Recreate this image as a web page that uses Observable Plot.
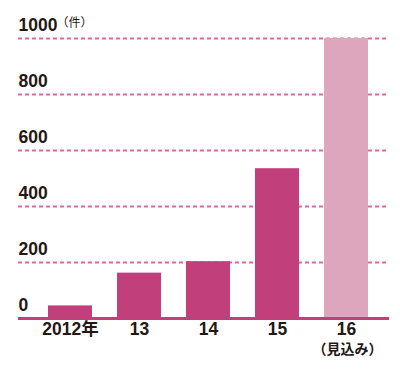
<!DOCTYPE html>
<html>
<head>
<meta charset="utf-8">
<script src="https://cdn.jsdelivr.net/npm/d3@7"></script>
<script src="https://cdn.jsdelivr.net/npm/@observablehq/plot@0.6"></script>
<style>
  html, body { margin: 0; padding: 0; background: #fff; }
  #chart svg { display: block; }
</style>
</head>
<body>
<div id="chart"></div>
<script>
const years = ["2012年", "13", "14", "15", "16"];
const values = [45, 162, 203, 535, 1000];
const subLabels = ["", "", "", "", "（見込み）"];
const isEstimate = [false, false, false, false, true];
const yTicks = [0, 200, 400, 600, 800, 1000];
const unitLabel = "（件）";

const data = years.map((y, i) => ({year: y, value: values[i], sub: subLabels[i], est: isEstimate[i]}));

const DARK = "#c1407b";
const LIGHT = "#dea6bd";
const GRID = "#d96a9f";
const FONT = "'Liberation Sans Narrow', 'Liberation Sans', Arial, 'Noto Sans CJK JP', sans-serif";
const CJK = "'Noto Sans CJK JP', sans-serif";

const chart = Plot.plot({
  width: 400,
  height: 374,
  marginTop: 38,
  marginBottom: 56,
  marginLeft: 18,
  marginRight: 11,
  style: {fontFamily: FONT, background: "#fff"},
  x: {type: "band", domain: years, paddingInner: 0.357, paddingOuter: 0.3286, align: 0.587, axis: null},
  y: {domain: [0, 1000], axis: null},
  marks: [
    Plot.ruleY(yTicks.filter(d => d > 0), {stroke: GRID, strokeWidth: 1.8, strokeDasharray: "4,3"}),
    Plot.barY(data, {x: "year", y: "value", fill: d => d.est ? LIGHT : DARK}),
    Plot.ruleY([0], {stroke: DARK, strokeWidth: 3}),
    Plot.text(yTicks, {y: d => d, text: d => String(d), frameAnchor: "left", textAnchor: "start", dy: -13, fontSize: 17.5, fontWeight: "bold", fill: "#231815"}),
    Plot.text([unitLabel], {y: () => 1000, frameAnchor: "left", textAnchor: "start", dx: 38, dy: -15, fontSize: 12, fill: "#231815", fontFamily: CJK}),
    Plot.text(data, {x: "year", text: "year", frameAnchor: "bottom", dy: 16, fontSize: 17.5, fontWeight: "bold", fill: "#231815"}),
    Plot.text(data, {x: "year", text: "sub", frameAnchor: "bottom", dy: 35, dx: 1, fontSize: 14, fontWeight: "bold", fill: "#231815", fontFamily: CJK})
  ]
});
document.getElementById("chart").append(chart);
</script>
</body>
</html>
